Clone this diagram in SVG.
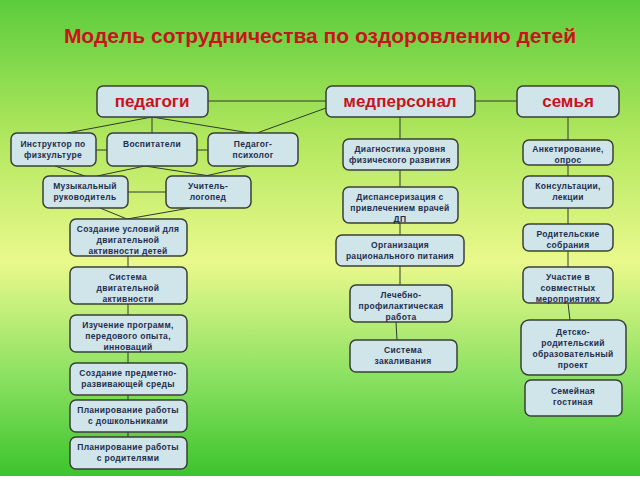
<svg xmlns="http://www.w3.org/2000/svg" width="640" height="480" viewBox="0 0 640 480">
<defs>
<linearGradient id="bg" x1="0" y1="0" x2="0" y2="1">
<stop offset="0" stop-color="#5ccc3c"/>
<stop offset="0.3" stop-color="#b4e860"/>
<stop offset="0.55" stop-color="#eaf98c"/>
<stop offset="0.8" stop-color="#88e060"/>
<stop offset="1" stop-color="#3cc42c"/>
</linearGradient>
</defs>
<style>
.b{fill:#cfe5ea;stroke:#3a3f3a;stroke-width:1.5}
.t{font-family:"Liberation Sans",Arial,sans-serif;font-weight:bold;font-size:8.5px;letter-spacing:0.3px;fill:#1f2d4f;text-anchor:middle}
.h{font-family:"Liberation Sans",Arial,sans-serif;font-weight:bold;font-size:17px;fill:#c8141c;text-anchor:middle}
.c line{stroke:#2e3a2e;stroke-width:1}
</style>
<rect width="640" height="476" fill="url(#bg)"/>
<rect y="476" width="640" height="4" fill="#ffffff"/>
<text x="320" y="43" font-family="Liberation Sans,Arial,sans-serif" font-weight="bold" font-size="21" fill="#c8141c" text-anchor="middle">Модель сотрудничества по оздоровлению детей</text>
<g class="c">
<line x1="208" y1="101" x2="326" y2="101"/>
<line x1="475" y1="101" x2="517" y2="101"/>
<line x1="326" y1="108" x2="257" y2="133"/>
<line x1="152" y1="117" x2="67" y2="133"/>
<line x1="152" y1="117" x2="152" y2="133"/>
<line x1="152" y1="117" x2="250" y2="133"/>
<line x1="96" y1="150" x2="107" y2="150"/>
<line x1="197" y1="150" x2="208" y2="150"/>
<line x1="55" y1="166" x2="85" y2="176"/>
<line x1="145" y1="166" x2="97" y2="176"/>
<line x1="145" y1="166" x2="210" y2="176"/>
<line x1="250" y1="166" x2="205" y2="176"/>
<line x1="128" y1="192" x2="166" y2="192"/>
<line x1="100" y1="208" x2="127" y2="219"/>
<line x1="190" y1="208" x2="127" y2="219"/>
<line x1="128" y1="256" x2="128" y2="437"/>
<line x1="400" y1="117" x2="400" y2="285"/>
<line x1="400" y1="285" x2="396" y2="322"/>
<line x1="396" y1="322" x2="397" y2="340"/>
<line x1="568" y1="117" x2="568" y2="267"/>
<line x1="568" y1="303" x2="570" y2="320"/>
</g>
<g id="ped"><rect class="b" x="97" y="86" width="111" height="31" rx="6"/><text class="h" x="152" y="107">педагоги</text></g>
<g id="med"><rect class="b" x="326" y="86" width="149" height="31" rx="6"/><text class="h" x="400" y="107">медперсонал</text></g>
<g id="sem"><rect class="b" x="517" y="86" width="102" height="31" rx="6"/><text class="h" x="568" y="107">семья</text></g>
<g id="n1"><rect class="b" x="11" y="133" width="85" height="33" rx="6"/><text class="t" x="53" y="147">Инструктор по</text><text class="t" x="53" y="158">физкультуре</text></g>
<g id="n2"><rect class="b" x="107" y="133" width="90" height="33" rx="6"/><text class="t" x="152" y="147">Воспитатели</text></g>
<g id="n3"><rect class="b" x="208" y="133" width="90" height="33" rx="6"/><text class="t" x="253" y="147">Педагог-</text><text class="t" x="253" y="158">психолог</text></g>
<g id="n4"><rect class="b" x="43" y="176" width="85" height="32" rx="6"/><text class="t" x="85" y="189">Музыкальный</text><text class="t" x="85" y="200">руководитель</text></g>
<g id="n5"><rect class="b" x="166" y="176" width="85" height="32" rx="6"/><text class="t" x="208" y="189">Учитель-</text><text class="t" x="208" y="200">логопед</text></g>
<g id="n6"><rect class="b" x="70" y="219" width="117" height="37" rx="6"/><text class="t" x="128" y="232">Создание условий для</text><text class="t" x="128" y="243">двигательной</text><text class="t" x="128" y="254">активности детей</text></g>
<g id="n7"><rect class="b" x="70" y="267" width="117" height="37" rx="6"/><text class="t" x="128" y="280">Система</text><text class="t" x="128" y="291">двигательной</text><text class="t" x="128" y="302">активности</text></g>
<g id="n8"><rect class="b" x="70" y="315" width="117" height="37" rx="6"/><text class="t" x="128" y="328">Изучение программ,</text><text class="t" x="128" y="339">передового опыта,</text><text class="t" x="128" y="350">инноваций</text></g>
<g id="n9"><rect class="b" x="70" y="363" width="117" height="32" rx="6"/><text class="t" x="128" y="376">Создание предметно-</text><text class="t" x="128" y="387">развивающей среды</text></g>
<g id="n10"><rect class="b" x="70" y="400" width="117" height="32" rx="6"/><text class="t" x="128" y="413">Планирование работы</text><text class="t" x="128" y="424">с дошкольниками</text></g>
<g id="n11"><rect class="b" x="70" y="437" width="117" height="32" rx="6"/><text class="t" x="128" y="450">Планирование работы</text><text class="t" x="128" y="461">с родителями</text></g>
<g id="m1"><rect class="b" x="343" y="139" width="115" height="31" rx="6"/><text class="t" x="400" y="152">Диагностика уровня</text><text class="t" x="400" y="163">физического развития</text></g>
<g id="m2"><rect class="b" x="343" y="187" width="115" height="36" rx="6"/><text class="t" x="400" y="200">Диспансеризация с</text><text class="t" x="400" y="211">привлечением врачей</text><text class="t" x="400" y="222">ДП</text></g>
<g id="m3"><rect class="b" x="336" y="235" width="128" height="31" rx="6"/><text class="t" x="400" y="248">Организация</text><text class="t" x="400" y="259">рационального питания</text></g>
<g id="m4"><rect class="b" x="350" y="285" width="102" height="37" rx="6"/><text class="t" x="401" y="298">Лечебно-</text><text class="t" x="401" y="309">профилактическая</text><text class="t" x="401" y="320">работа</text></g>
<g id="m5"><rect class="b" x="350" y="340" width="107" height="32" rx="6"/><text class="t" x="403" y="353">Система</text><text class="t" x="403" y="364">закаливания</text></g>
<g id="s1"><rect class="b" x="523" y="140" width="90" height="25" rx="6"/><text class="t" x="568" y="152">Анкетирование,</text><text class="t" x="568" y="163">опрос</text></g>
<g id="s2"><rect class="b" x="523" y="176" width="90" height="32" rx="6"/><text class="t" x="568" y="189">Консультации,</text><text class="t" x="568" y="200">лекции</text></g>
<g id="s3"><rect class="b" x="523" y="224" width="90" height="27" rx="6"/><text class="t" x="568" y="237">Родительские</text><text class="t" x="568" y="248">собрания</text></g>
<g id="s4"><rect class="b" x="523" y="267" width="90" height="36" rx="6"/><text class="t" x="568" y="280">Участие в</text><text class="t" x="568" y="291">совместных</text><text class="t" x="568" y="302">мероприятиях</text></g>
<g id="s5"><rect class="b" x="521" y="320" width="105" height="55" rx="8"/><text class="t" x="573" y="335">Детско-</text><text class="t" x="573" y="346">родительский</text><text class="t" x="573" y="357">образовательный</text><text class="t" x="573" y="368">проект</text></g>
<g id="s6"><rect class="b" x="525" y="380" width="97" height="36" rx="6"/><text class="t" x="573" y="394">Семейная</text><text class="t" x="573" y="405">гостиная</text></g>
</svg>
